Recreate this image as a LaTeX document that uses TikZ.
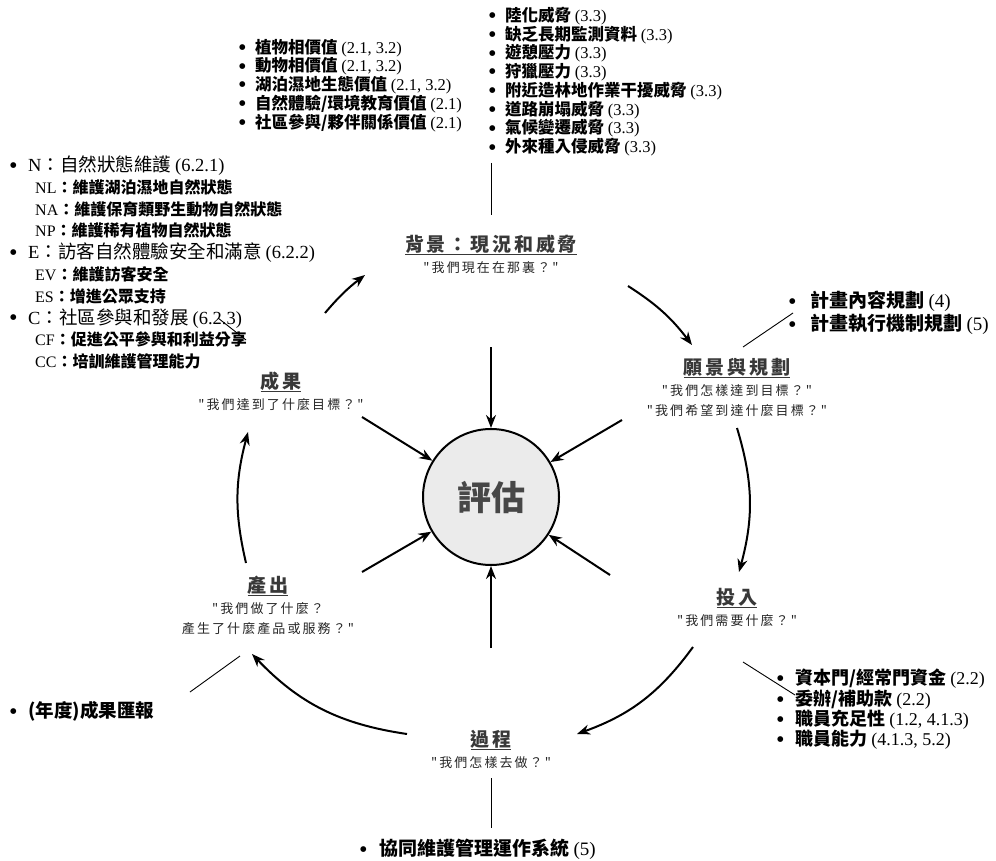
\documentclass[tikz,border=0pt]{standalone}
\usepackage{fontspec}
\setmainfont{Liberation Serif}
\newfontfamily\hei{Noto Sans CJK TC}
\newfontfamily\kai{Noto Sans CJK TC}[LetterSpace=15]
\newfontfamily\ming{Noto Sans CJK TC}[LetterSpace=16]
\newfontfamily\dv{DejaVu Sans}
\usetikzlibrary{arrows.meta, positioning}

\newcommand{\itm}[1][16pt]{\makebox[#1][l]{\raisebox{0.22em}{\dv\mdseries\fontsize{7.5}{7.5}\selectfont ●}}}
\newcommand{\nb}[1]{{\rmfamily\mdseries #1}}
\newcommand{\ul}[1]{\setbox0\hbox{#1}\rlap{\rule[-4pt]{\wd0}{1.4pt}}\box0}
\newcommand{\subln}{\bfseries\fontsize{16}{21.8}\selectfont\hspace*{25pt}}

\tikzstyle{stage} = [inner sep=0pt, text=black!78, font=\kai\bfseries\fontsize{19}{19}\selectfont]
\tikzstyle{question} = [inner sep=0pt, align=center, text=black!85, font=\ming\fontsize{13}{20}\selectfont]
\tikzstyle{itemlist} = [inner sep=0pt, anchor=north west, align=left]
\tikzstyle{hub} = [circle, draw=black, line width=2pt, fill=black!8, minimum size=136pt, text=black!72, font=\hei\bfseries\fontsize{34}{34}\selectfont]
\tikzstyle{flow} = [line width=2pt, -{Stealth[length=13pt, width=10pt]}]
\tikzstyle{leader} = [line width=0.9pt]

\begin{document}
\begin{tikzpicture}[x=1pt, y=-1pt]
\useasboundingbox (0,0) rectangle (996,861);

% evaluation hub and the six stages
\node (hub) [hub] at (491,497) {評估};
\node (bg) [stage] at (491,245) {\ul{背景：現況和威脅}};
\node (bgq) [question, below=6pt of bg] {"我們現在在那裏？"};
\node (vs) [stage] at (737,368) {\ul{願景與規劃}};
\node (vsq) [question, below=6pt of vs] {"我們怎樣達到目標？"\\"我們希望到達什麼目標？"};
\node (in) [stage] at (737,598) {\ul{投入}};
\node (inq) [question, below=6pt of in] {"我們需要什麼？"};
\node (pr) [stage] at (491,740) {\ul{過程}};
\node (prq) [question, below=6pt of pr] {"我們怎樣去做？"};
\node (ou) [stage] at (268,586) {\ul{產出}};
\node (ouq) [question, below=6pt of ou] {"我們做了什麼？\\產生了什麼產品或服務？"};
\node (oc) [stage] at (281,382) {\ul{成果}};
\node (ocq) [question, below=6pt of oc] {"我們達到了什麼目標？"};

% item lists
\node (values) [itemlist, font=\hei\bfseries\fontsize{16.5}{17}\selectfont] at (239,39) {
\itm 植物相價值 \nb{(2.1, 3.2)}\\
\itm 動物相價值 \nb{(2.1, 3.2)}\\
\itm 湖泊濕地生態價值 \nb{(2.1, 3.2)}\\
\itm 自然體驗/環境教育價值 \nb{(2.1)}\\
\itm 社區參與/夥伴關係價值 \nb{(2.1)}};
\node (threats) [itemlist, font=\hei\bfseries\fontsize{16.5}{17}\selectfont] at (489,7) {
\itm 陸化威脅 \nb{(3.3)}\\
\itm 缺乏長期監測資料 \nb{(3.3)}\\
\itm 遊憩壓力 \nb{(3.3)}\\
\itm 狩獵壓力 \nb{(3.3)}\\
\itm 附近造林地作業干擾威脅 \nb{(3.3)}\\
\itm 道路崩塌威脅 \nb{(3.3)}\\
\itm 氣候變遷威脅 \nb{(3.3)}\\
\itm 外來種入侵威脅 \nb{(3.3)}};
\node (goals) [itemlist, font=\hei\fontsize{18.5}{21.8}\selectfont] at (10,155.5) {
\itm[18pt]\nb{N}：自然狀態維護 \nb{(6.2.1)}\\
{\subln\nb{NL}：維護湖泊濕地自然狀態}\\
{\subln\nb{NA}：維護保育類野生動物自然狀態}\\
{\subln\nb{NP}：維護稀有植物自然狀態}\\
\itm[18pt]\nb{E}：訪客自然體驗安全和滿意 \nb{(6.2.2)}\\
{\subln\nb{EV}：維護訪客安全}\\
{\subln\nb{ES}：增進公眾支持}\\
\itm[18pt]\nb{C}：社區參與和發展 \nb{(6.2.3)}\\
{\subln\nb{CF}：促進公平參與和利益分享}\\
{\subln\nb{CC}：培訓維護管理能力}};
\node (plans) [itemlist, font=\hei\bfseries\fontsize{19}{23}\selectfont] at (789,290.5) {
\itm[21pt]計畫內容規劃 \nb{(4)}\\
\itm[21pt]計畫執行機制規劃 \nb{(5)}};
\node (inputs) [itemlist, font=\hei\bfseries\fontsize{18}{19}\selectfont] at (777,669) {
\itm[18pt]資本門/經常門資金 \nb{(2.2)}\\
\itm[18pt]委辦/補助款 \nb{(2.2)}\\
\itm[18pt]職員充足性 \nb{(1.2, 4.1.3)}\\
\itm[18pt]職員能力 \nb{(4.1.3, 5.2)}};
\node (system) [itemlist, font=\hei\bfseries\fontsize{19}{20}\selectfont] at (360,839) {
\itm[19pt]協同維護管理運作系統 \nb{(5)}};
\node (report) [itemlist, font=\hei\bfseries\fontsize{18.5}{20}\selectfont] at (10,701) {
\itm[18pt](年度)成果匯報};

% ends of the connectors
\coordinate (hubN) at (491,347);
\coordinate (hubNW) at (362,417);
\coordinate (hubNE) at (622,420);
\coordinate (hubSW) at (362,572);
\coordinate (hubSE) at (610,575);
\coordinate (hubS) at (491,648);
\coordinate (a1s) at (628,286);
\coordinate (a1e) at (692,345);
\coordinate (a2s) at (737,428);
\coordinate (a2e) at (739,572);
\coordinate (a3s) at (693,647);
\coordinate (a3e) at (577,734);
\coordinate (a4s) at (407,734);
\coordinate (a4e) at (252,654);
\coordinate (a5s) at (246,563);
\coordinate (a5e) at (248,432);
\coordinate (a6s) at (325,313);
\coordinate (a6e) at (365,275);
\coordinate (thrL) at (491,163);
\coordinate (bgL) at (491,215);
\coordinate (vsL) at (743,347);
\coordinate (plL) at (793,313);
\coordinate (inL) at (743,662);
\coordinate (ipL) at (795,695);
\coordinate (prL) at (491,778);
\coordinate (syL) at (491,828);
\coordinate (ouL) at (240,656);
\coordinate (rpL) at (190,692);
\coordinate (ocL) at (246,340);
\coordinate (glL) at (218,318);

% cycle
\draw [flow] (a1s) to[bend left=10] (a1e);
\draw [flow] (a2s) to[bend left=16] (a2e);
\draw [flow] (a3s) to[bend left=17] (a3e);
\draw [flow] (a4s) to[bend left=19] (a4e);
\draw [flow] (a5s) to[bend left=14] (a5e);
\draw [flow] (a6s) to[bend left=6] (a6e);

% into the hub
\draw [flow] (hubN) -- (hub);
\draw [flow] (hubNW) -- (hub);
\draw [flow] (hubNE) -- (hub);
\draw [flow] (hubSW) -- (hub);
\draw [flow] (hubSE) -- (hub);
\draw [flow] (hubS) -- (hub);

% leaders to the lists
\draw [leader] (thrL) -- (bgL);
\draw [leader] (vsL) -- (plL);
\draw [leader] (inL) -- (ipL);
\draw [leader] (prL) -- (syL);
\draw [leader] (ouL) -- (rpL);
\draw [leader] (ocL) -- (glL);

\end{tikzpicture}
\end{document}
